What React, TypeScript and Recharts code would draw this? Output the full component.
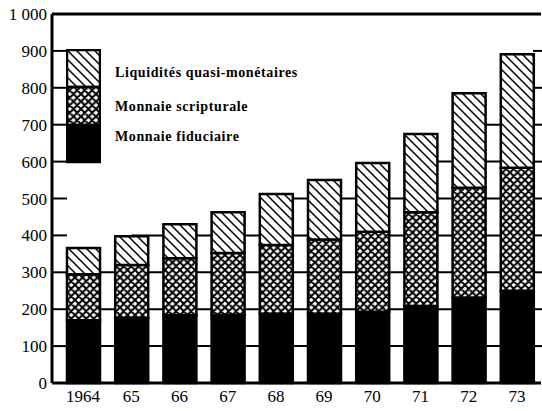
import React from "react"
import { Bar, BarChart, ReferenceLine, XAxis, YAxis } from "recharts"

const years = ["1964", "65", "66", "67", "68", "69", "70", "71", "72", "73"]
const fiduciaire = [170, 177, 184, 185, 188, 188, 193, 209, 232, 250]
const scripturale = [125, 143, 154, 167, 186, 201, 217, 254, 297, 333]
const quasiMonetaires = [71, 78, 92, 111, 138, 161, 186, 212, 256, 308]
const yTicks = [0, 100, 200, 300, 400, 500, 600, 700, 800, 900, 1000]

const data = years.map((year, i) => ({
  year,
  fiduciaire: fiduciaire[i],
  scripturale: scripturale[i],
  quasi: quasiMonetaires[i],
}))

const totals = data.map((d) => d.fiduciaire + d.scripturale + d.quasi)

// gridline pieces only show in the gaps, up to the lower of the two neighbours
const gapLines: { from: string; to: string; level: number }[] = []
for (let i = 0; i < years.length - 1; i++) {
  const top = Math.min(totals[i], totals[i + 1])
  for (const level of yTicks) {
    if (level > 0 && level < 1000 && level <= top + 3) {
      gapLines.push({ from: years[i], to: years[i + 1], level })
    }
  }
}

const W = 542
const H = 411
const font = "'Liberation Serif', 'Times New Roman', serif"

function Patterns({ prefix }: { prefix: string }) {
  return (
    <defs>
      <pattern id={`${prefix}-hatch`} patternUnits="userSpaceOnUse" width="9" height="9">
        <rect width="9" height="9" fill="#fff" />
        <path d="M0,0 L9,9 M-2,7 L2,11 M7,-2 L11,2" stroke="#000" strokeWidth="1.5" />
      </pattern>
      <pattern id={`${prefix}-cross`} patternUnits="userSpaceOnUse" width="7.5" height="7.5">
        <rect width="7.5" height="7.5" fill="#fff" />
        <path
          d="M0,0 L7.5,7.5 M7.5,0 L0,7.5 M-1,6.5 L1,8.5 M6.5,-1 L8.5,1 M-1,1 L1,-1 M6.5,8.5 L8.5,6.5"
          stroke="#000"
          strokeWidth="2"
        />
      </pattern>
    </defs>
  )
}

// inward ticks on the left, plus the short ticks on the right edge
function LeftTick(props: any) {
  const { x, y, payload } = props
  const v = payload.value
  const inner = v > 0 && v < 1000
  return (
    <g>
      {inner && <line x1={x + 5} x2={x + 20} y1={y} y2={y} stroke="#000" strokeWidth={2} />}
      {inner && <line x1={W - 9} x2={W} y1={y} y2={y} stroke="#000" strokeWidth={2} />}
      <text x={x} y={y} dy={6} textAnchor="end" fill="#000" fontSize={17} fontFamily={font}>
        {v === 1000 ? "1 000" : v}
      </text>
    </g>
  )
}

function LegendBox() {
  const labelStyle: React.CSSProperties = {
    position: "absolute",
    left: 115,
    fontFamily: font,
    fontWeight: "bold",
    fontSize: 14,
    letterSpacing: 0.6,
    color: "#000",
    whiteSpace: "nowrap",
    lineHeight: "16px",
  }
  return (
    <>
      <svg style={{ position: "absolute", left: 66, top: 49 }} width={35} height={115}>
        <Patterns prefix="lg" />
        <rect x={1} y={1} width={33} height={37} fill="url(#lg-hatch)" stroke="#000" strokeWidth={2.5} />
        <rect x={1} y={38} width={33} height={38} fill="url(#lg-cross)" stroke="#000" strokeWidth={2.5} />
        <rect x={1} y={76} width={33} height={37} fill="#000" stroke="#000" strokeWidth={2.5} />
      </svg>
      <div style={{ ...labelStyle, top: 65 }}>Liquidités quasi-monétaires</div>
      <div style={{ ...labelStyle, top: 99 }}>Monnaie scripturale</div>
      <div style={{ ...labelStyle, top: 129 }}>Monnaie fiduciaire</div>
    </>
  )
}

export default function App() {
  return (
    <div style={{ position: "relative", width: W, height: H, background: "#fff", overflow: "hidden" }}>
      <style>{"body{margin:0}"}</style>
      <BarChart
        width={W}
        height={H}
        data={data}
        margin={{ top: 14, right: 1, left: 0, bottom: 0 }}
        barSize={33}
      >
        <Patterns prefix="ch" />
        <XAxis
          dataKey="year"
          padding={{ left: 7, right: 0 }}
          axisLine={{ stroke: "#000", strokeWidth: 3 }}
          tickLine={false}
          tickSize={0}
          tickMargin={7}
          height={28}
          interval={0}
          tick={{ fill: "#000", fontSize: 17, fontFamily: font }}
        />
        <YAxis
          domain={[0, 1000]}
          ticks={yTicks}
          width={52}
          axisLine={{ stroke: "#000", strokeWidth: 3 }}
          tickLine={false}
          tickSize={0}
          tickMargin={5}
          tick={<LeftTick />}
          interval={0}
        />
        {gapLines.map((g) => (
          <ReferenceLine
            key={`${g.from}-${g.level}`}
            zIndex={-10}
            segment={[
              { x: g.from, y: g.level },
              { x: g.to, y: g.level },
            ]}
            stroke="#000"
            strokeWidth={2}
          />
        ))}
        <ReferenceLine y={1000} stroke="#000" strokeWidth={3} />
        <Bar dataKey="fiduciaire" stackId="m" fill="#000" stroke="#000" strokeWidth={2.5} isAnimationActive={false} />
        <Bar dataKey="scripturale" stackId="m" fill="url(#ch-cross)" stroke="#000" strokeWidth={2.5} isAnimationActive={false} />
        <Bar dataKey="quasi" stackId="m" fill="url(#ch-hatch)" stroke="#000" strokeWidth={2.5} isAnimationActive={false} />
      </BarChart>
      <LegendBox />
    </div>
  )
}
